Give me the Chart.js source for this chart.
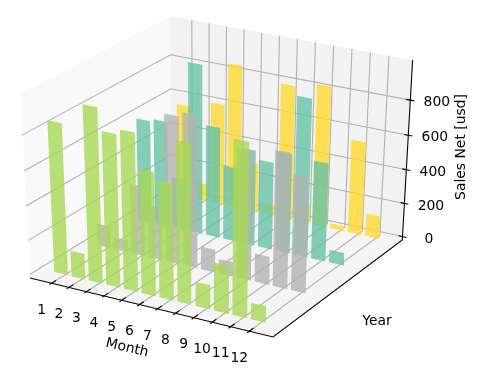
<!DOCTYPE html>
<html>
<head>
<meta charset="utf-8">
<style>
  html, body { margin: 0; padding: 0; background: #fff; }
  canvas { display: block; }
</style>
<script src="https://cdn.jsdelivr.net/npm/chart.js@4/dist/chart.umd.min.js"></script>
</head>
<body>
<canvas id="salesChart" width="484" height="375"></canvas>
<script>
// Chart data
const months = [1, 2, 3, 4, 5, 6, 7, 8, 9, 10, 11, 12];
const yearSlots = [0, 1, 2, 3];
const salesTicks = [0, 200, 400, 600, 800];

const salesSlot0 = [868, 150, 995, 870, 900, 705, 665, 905, 140, 275, 975, 95];
const salesSlot1 = [130, 70, 410, 310, 850, 875, 135, 85, 740, 165, 775, 660];
const salesSlot2 = [605, 620, 300, 985, 648, 432, 560, 510, 580, 913, 570, 75];
const salesSlot3 = [555, 105, 605, 850, 295, 65, 793, 110, 828, 30, 551, 135];

const slotColors = [
    "rgba(166, 216, 84, 0.8)",
    "rgba(179, 179, 179, 0.8)",
    "rgba(102, 194, 165, 0.8)",
    "rgba(255, 217, 47, 0.8)",
];

// Limits of the 3D box
const monthLimits = [-0.26, 13.26];
const slotLimits = [-0.219, 3.219];
const salesLimits = [-21, 1024];
const barWidth = 0.8;

const GRID_COLOR = "#b0b0b0";
const LABEL_FONT = '13.9px "DejaVu Sans"';

/**
 * Perspective projection of a data point onto the flat chart scales
 */
function project(month, slot, sales) {
    const u = (month - monthLimits[0]) / (monthLimits[1] - monthLimits[0]);
    const v = (slot - slotLimits[0]) / (slotLimits[1] - slotLimits[0]);
    const t = (sales - salesLimits[0]) / (salesLimits[1] - salesLimits[0]);
    const w = 1 - 0.0499 * u + 0.0832 * v - 0.052 * t;
    return {
        x: (30 + 229.4 * u + 156.3 * v - 10.8 * t) / w,
        y: (278 + 42.2 * u - 72.2 * v - 189.2 * t) / w,
    };
}

function shapeDataset(points, color) {
    return {
        data: [...points, points[0]],
        showLine: true,
        fill: "shape",
        backgroundColor: color,
        borderWidth: 0,
        pointRadius: 0,
        tension: 0,
        clip: false,
    };
}

function lineDataset(points, color, width) {
    return {
        data: points,
        showLine: true,
        fill: false,
        borderColor: color,
        borderWidth: width,
        pointRadius: 0,
        tension: 0,
        clip: false,
    };
}

function buildPanes() {
    const [x0, x1] = monthLimits;
    const [y0, y1] = slotLimits;
    const [z0, z1] = salesLimits;
    return [
        shapeDataset([project(x0, y0, z0), project(x0, y1, z0), project(x0, y1, z1), project(x0, y0, z1)], "#f9f9f9"),
        shapeDataset([project(x0, y1, z0), project(x1, y1, z0), project(x1, y1, z1), project(x0, y1, z1)], "#f2f2f2"),
        shapeDataset([project(x0, y0, z0), project(x1, y0, z0), project(x1, y1, z0), project(x0, y1, z0)], "#f5f5f5"),
    ];
}

function buildGrid() {
    const [x0, x1] = monthLimits;
    const [y0, y1] = slotLimits;
    const [z0, z1] = salesLimits;
    const lines = [];
    for (const month of months) {
        lines.push(lineDataset([project(month, y0, z0), project(month, y1, z0), project(month, y1, z1)], GRID_COLOR, 1.1));
    }
    for (const tick of salesTicks) {
        lines.push(lineDataset([project(x0, y0, tick), project(x0, y1, tick), project(x1, y1, tick)], GRID_COLOR, 1.1));
    }
    return lines;
}

function buildBars() {
    const series = [salesSlot0, salesSlot1, salesSlot2, salesSlot3];
    const bars = [];
    // Back row first so the front row lands on top
    for (let s = yearSlots.length - 1; s >= 0; s--) {
        months.forEach((month, i) => {
            const left = month - barWidth / 2;
            const right = month + barWidth / 2;
            const slot = yearSlots[s];
            bars.push(shapeDataset([
                project(left, slot, 0),
                project(right, slot, 0),
                project(right, slot, series[s][i]),
                project(left, slot, series[s][i]),
            ], slotColors[s]));
        });
    }
    return bars;
}

function buildAxes() {
    const [x0, x1] = monthLimits;
    const [y0, y1] = slotLimits;
    const [z0, z1] = salesLimits;
    const lines = [
        lineDataset([project(x0, y0, z0), project(x1, y0, z0), project(x1, y1, z0), project(x1, y1, z1)], "#000", 1.1),
    ];
    for (const month of months) {
        lines.push(lineDataset([project(month, y0 - 0.05, z0), project(month, y0 + 0.1, z0)], "#000", 1.1));
    }
    for (const tick of salesTicks) {
        lines.push(lineDataset([project(x1 - 0.22, y1, tick), project(x1 + 0.22, y1, tick)], "#000", 1.1));
    }
    return lines;
}

const axisTextPlugin = {
    id: "axisText",
    afterDatasetsDraw(chart) {
        const { ctx } = chart;
        const [, x1] = monthLimits;
        const [y0, y1] = slotLimits;
        const [z0] = salesLimits;

        const put = (text, x, y, angle = 0) => {
            ctx.save();
            ctx.translate(x, y);
            ctx.rotate(angle);
            ctx.fillText(text, 0, 0);
            ctx.restore();
        };

        ctx.save();
        ctx.font = LABEL_FONT;
        ctx.fillStyle = "#000";
        ctx.textAlign = "center";
        ctx.textBaseline = "middle";

        for (const month of months) {
            const p = project(month, y0, z0);
            put(String(month), p.x - 10, p.y + 27);
        }
        for (const tick of salesTicks) {
            const p = project(x1, y1, tick);
            put(String(tick), p.x + 26.5, p.y + 2.5);
        }

        put("Month", 127, 348, 0.235);
        put("Year", 377, 321);
        put("Sales Net [usd]", 461, 147, -Math.PI / 2);
        ctx.restore();
    },
};

// Chart.js paints the first dataset last, so flip the back-to-front list
const datasets = [...buildPanes(), ...buildGrid(), ...buildAxes(), ...buildBars()].reverse();

new Chart(document.getElementById("salesChart").getContext("2d"), {
    type: "scatter",
    data: { datasets },
    options: {
        responsive: false,
        animation: false,
        layout: { padding: 0 },
        plugins: { legend: { display: false }, tooltip: { enabled: false } },
        scales: {
            x: { type: "linear", min: 0, max: 484, display: false },
            y: { type: "linear", min: 0, max: 375, reverse: true, display: false },
        },
    },
    plugins: [axisTextPlugin],
});
</script>
</body>
</html>
